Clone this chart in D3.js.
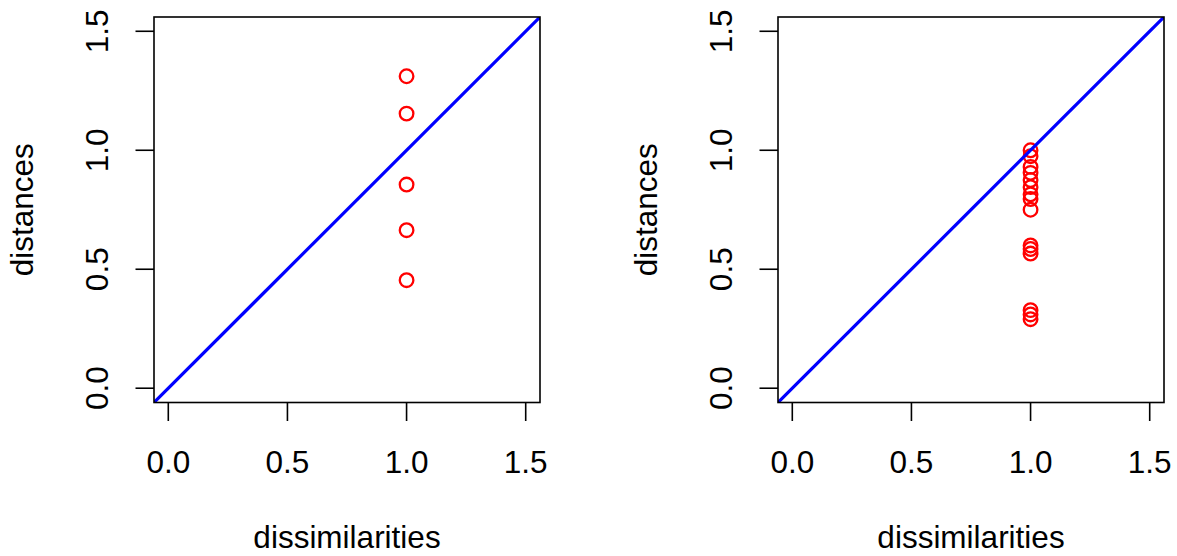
<!DOCTYPE html>
<html>
<head>
<meta charset="utf-8">
<script src="https://cdn.jsdelivr.net/npm/d3@7"></script>
<style>
  body { margin: 0; background: #fff; }
  text { font-family: "Liberation Sans", Arial, sans-serif; }
</style>
</head>
<body>
<div id="chart"></div>
<script>
// data
const ticks = [0, 0.5, 1.0, 1.5];
const tickLabels = ["0.0", "0.5", "1.0", "1.5"];
const leftDissim = [1, 1, 1, 1, 1];
const leftDist = [1.311, 1.154, 0.856, 0.664, 0.454];
const rightDissim = [1, 1, 1, 1, 1, 1, 1, 1, 1, 1, 1, 1, 1, 1, 1];
const rightDist = [1.0, 0.975, 0.93, 0.905, 0.875, 0.845, 0.815, 0.795, 0.75,
                   0.60, 0.585, 0.566, 0.328, 0.31, 0.29];

const WIDTH = 1177, HEIGHT = 556;
const FONT = 31.5;

const svg = d3.select("#chart").append("svg")
  .attr("width", WIDTH).attr("height", HEIGHT);

const y = d3.scaleLinear().domain([-0.06, 1.56]).range([402.5, 17]);

function panel(left, xs, ys, id) {
  const x = d3.scaleLinear().domain([-0.06, 1.56]).range([left, left + 386]);
  const g = svg.append("g");

  g.append("clipPath").attr("id", id)
    .append("rect")
    .attr("x", x.range()[0]).attr("y", y.range()[1])
    .attr("width", 386).attr("height", y.range()[0] - y.range()[1]);

  // points
  g.selectAll("circle").data(xs.map((d, i) => [d, ys[i]])).enter()
    .append("circle")
    .attr("cx", d => x(d[0]))
    .attr("cy", d => y(d[1]))
    .attr("r", 6.8)
    .attr("fill", "none")
    .attr("stroke", "#ff0000")
    .attr("stroke-width", 2.3);

  // identity line
  g.append("line")
    .attr("clip-path", `url(#${id})`)
    .attr("x1", x(-0.06)).attr("y1", y(-0.06))
    .attr("x2", x(1.56)).attr("y2", y(1.56))
    .attr("stroke", "#0000ff").attr("stroke-width", 3.2);

  // box
  g.append("rect")
    .attr("x", x.range()[0]).attr("y", y.range()[1])
    .attr("width", 386).attr("height", y.range()[0] - y.range()[1])
    .attr("fill", "none").attr("stroke", "#000").attr("stroke-width", 1.6);

  // x axis
  g.selectAll(".xt").data(ticks).enter().append("line")
    .attr("x1", d => x(d)).attr("x2", d => x(d))
    .attr("y1", 402.5).attr("y2", 421)
    .attr("stroke", "#000").attr("stroke-width", 1.6);
  g.selectAll(".xl").data(ticks).enter().append("text")
    .attr("x", d => x(d)).attr("y", 473)
    .attr("text-anchor", "middle").attr("font-size", FONT)
    .text((d, i) => tickLabels[i]);

  // y axis
  g.selectAll(".yt").data(ticks).enter().append("line")
    .attr("x1", left).attr("x2", left - 18.5)
    .attr("y1", d => y(d)).attr("y2", d => y(d))
    .attr("stroke", "#000").attr("stroke-width", 1.6);
  g.selectAll(".yl").data(ticks).enter().append("text")
    .attr("transform", d => `translate(${left - 46},${y(d)}) rotate(-90)`)
    .attr("text-anchor", "middle").attr("font-size", FONT)
    .text((d, i) => tickLabels[i]);

  // titles
  g.append("text")
    .attr("x", left + 193).attr("y", 548)
    .attr("text-anchor", "middle").attr("font-size", FONT)
    .text("dissimilarities");
  g.append("text")
    .attr("transform", `translate(${left - 121},${(y.range()[0] + y.range()[1]) / 2}) rotate(-90)`)
    .attr("text-anchor", "middle").attr("font-size", FONT)
    .text("distances");
}

panel(154, leftDissim, leftDist, "clipL");
panel(778, rightDissim, rightDist, "clipR");
</script>
</body>
</html>
